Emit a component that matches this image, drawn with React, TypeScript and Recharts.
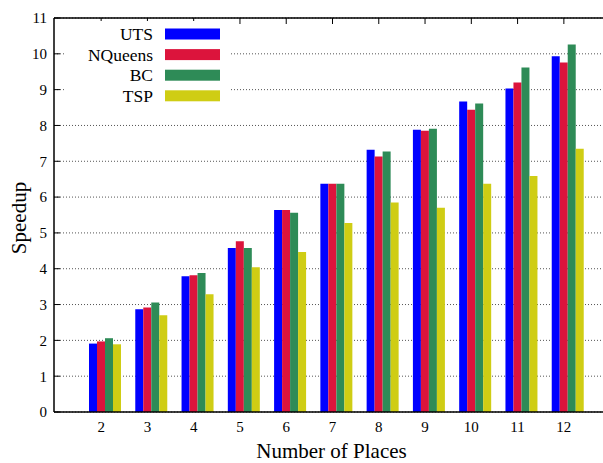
import React from 'react';
import { BarChart, Bar, XAxis, YAxis, CartesianGrid, Legend, Label } from 'recharts';

const places = ['2', '3', '4', '5', '6', '7', '8', '9', '10', '11', '12'];
const uts = [1.91, 2.87, 3.79, 4.58, 5.64, 6.37, 7.32, 7.88, 8.67, 9.03, 9.93];
const nqueens = [1.97, 2.92, 3.82, 4.77, 5.64, 6.37, 7.13, 7.85, 8.44, 9.2, 9.76];
const bc = [2.06, 3.06, 3.88, 4.58, 5.56, 6.37, 7.27, 7.91, 8.61, 9.62, 10.26];
const tsp = [1.89, 2.7, 3.29, 4.04, 4.47, 5.28, 5.85, 5.7, 6.37, 6.59, 7.35];
const yTicks = [0, 1, 2, 3, 4, 5, 6, 7, 8, 9, 10, 11];

const seriesNames = ['UTS', 'NQueens', 'BC', 'TSP'];
const seriesColors = ['#0000ff', '#dc143c', '#2e8b57', '#cfcd14'];

const data = places.map((p, i) => ({
  places: p,
  pad: 0,
  UTS: uts[i],
  NQueens: nqueens[i],
  BC: bc[i],
  TSP: tsp[i],
}));

const FONT = '"Liberation Serif", "Times New Roman", serif';

function YTick(props: any) {
  const { x, y, payload } = props;
  return (
    <g>
      <text x={x} y={y} dy="0.36em" textAnchor="end" fontFamily={FONT} fontSize={15} fill="#000">
        {payload.value}
      </text>
      <line x1={x + 7} x2={x + 13} y1={y} y2={y} stroke="#000" strokeWidth={1} />
    </g>
  );
}

function XTick(props: any) {
  const { x, y, payload } = props;
  return (
    <text x={x} y={y} dy="0.71em" textAnchor="middle" fontFamily={FONT} fontSize={15} fill="#000">
      {payload.value}
    </text>
  );
}

function TopTick(props: any) {
  const { x, y } = props;
  return <line x1={x} x2={x} y1={y} y2={y + 6} stroke="#000" strokeWidth={1} />;
}

function LegendBox() {
  const rowY0 = 34;
  const rowStep = 20.6;
  return (
    <svg width={603} height={463} style={{ position: 'absolute', left: 0, top: 0 }}>
      <rect x={66} y={21} width={164} height={86} fill="#fff" />
      {seriesNames.map((name, i) => {
        const cy = rowY0 + i * rowStep;
        return (
          <g key={name}>
            <text x={153} y={cy} dy="0.35em" textAnchor="end" fontFamily={FONT} fontSize={17.5} fill="#000">
              {name}
            </text>
            <rect x={165} y={cy - 5.5} width={55} height={11} fill={seriesColors[i]} />
          </g>
        );
      })}
    </svg>
  );
}

function YLabel(props: any) {
  const { viewBox } = props;
  const x = viewBox.x + 25.5;
  const y = viewBox.y + viewBox.height / 2 + 3;
  return (
    <text x={x} y={y} transform={`rotate(-90, ${x}, ${y})`} textAnchor="middle" fontFamily={FONT} fontSize={21} fill="#000">
      Speedup
    </text>
  );
}

export default function App() {
  return (
    <div style={{ position: 'absolute', left: 0, top: 0, width: 603, height: 463, overflow: 'hidden', background: '#fff' }}>
      <BarChart
        width={603}
        height={463}
        data={data}
        margin={{ top: 0, right: 0, bottom: 0, left: 0 }}
        barGap={0}
        barSize={8}
      >
        <CartesianGrid vertical={false} stroke="#555" strokeDasharray="1 2" />
        <XAxis
          dataKey="places"
          xAxisId="bottom"
          orientation="bottom"
          height={51}
          padding={{ left: 24, right: 16 }}
          tickLine={false}
          tickSize={0}
          tickMargin={9}
          tick={<XTick />}
          axisLine={{ stroke: '#000', strokeWidth: 1.5 }}
          interval={0}
        >
          <Label value="Number of Places" position="insideBottom" offset={5} dx={3} fontFamily={FONT} fontSize={21} fill="#000" />
        </XAxis>
        <XAxis
          dataKey="places"
          xAxisId="top"
          orientation="top"
          height={18}
          padding={{ left: 24, right: 16 }}
          tickLine={false}
          tickSize={0}
          tickMargin={0}
          tick={<TopTick />}
          axisLine={{ stroke: '#000', strokeWidth: 1.5 }}
          interval={0}
        />
        <YAxis
          width={54}
          domain={[0, 11]}
          ticks={yTicks}
          interval={0}
          tickLine={false}
          tickSize={0}
          tickMargin={7}
          tick={<YTick />}
          axisLine={{ stroke: '#000', strokeWidth: 1.5 }}
          label={<YLabel />}
        />
        <Legend
          layout="vertical"
          align="center"
          verticalAlign="middle"
          wrapperStyle={{ left: 0, top: 0, width: 603, height: 463, pointerEvents: 'none' }}
          content={() => <LegendBox />}
        />
        <Bar xAxisId="bottom" dataKey="pad" fill="none" legendType="none" isAnimationActive={false} />
        <Bar xAxisId="bottom" dataKey="UTS" fill={seriesColors[0]} isAnimationActive={false} />
        <Bar xAxisId="bottom" dataKey="NQueens" fill={seriesColors[1]} isAnimationActive={false} />
        <Bar xAxisId="bottom" dataKey="BC" fill={seriesColors[2]} isAnimationActive={false} />
        <Bar xAxisId="bottom" dataKey="TSP" fill={seriesColors[3]} isAnimationActive={false} />
      </BarChart>
    </div>
  );
}
